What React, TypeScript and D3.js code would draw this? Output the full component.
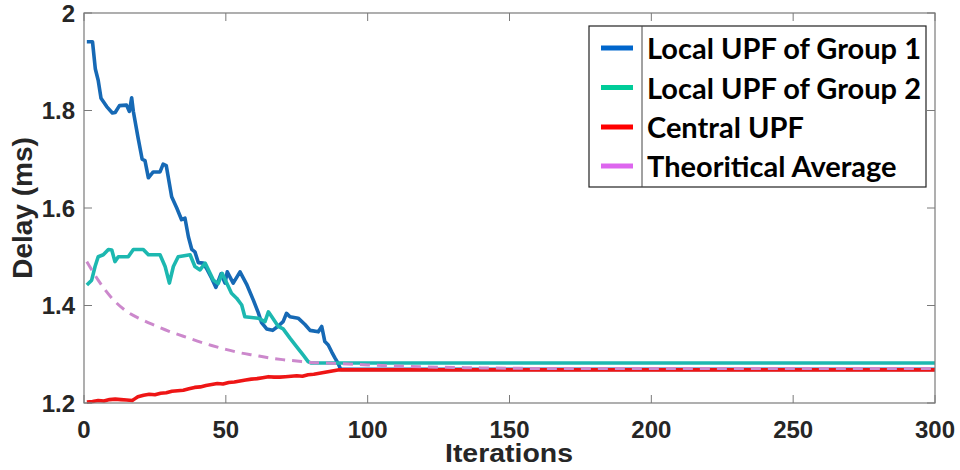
import React from "react";
import * as d3 from "d3";

const xTicks = [0, 50, 100, 150, 200, 250, 300];
const yTicks = [1.2, 1.4, 1.6, 1.8, 2];
const yTickLabels = ["1.2", "1.4", "1.6", "1.8", "2"];

const seriesNames = ["Local UPF of Group 1", "Local UPF of Group 2", "Central UPF", "Theoritical Average"];

const group1It = [1, 3, 4, 5, 6, 8, 10, 11, 12.5, 15, 16, 16.8, 17.4, 19, 20.5, 21.5, 22.7, 24.4, 26.8, 27.9, 29, 30.9, 32.7, 34.4, 35.6, 36.8, 38, 39.1, 40.3, 42, 43.2, 45, 46.5, 48.3, 49.7, 50.5, 52.6, 55, 57.3, 59.7, 61.4, 62.6, 64.4, 66.5, 68.5, 70.2, 71.4, 72.6, 75.5, 77.9, 79.7, 82.6, 83.8, 84.9, 86.1, 87.3, 88.5, 89.6, 90.5, 300];
const group1Val = [1.941, 1.941, 1.885, 1.862, 1.825, 1.808, 1.795, 1.796, 1.81, 1.811, 1.798, 1.826, 1.798, 1.746, 1.7, 1.697, 1.662, 1.674, 1.674, 1.69, 1.687, 1.623, 1.6, 1.576, 1.579, 1.541, 1.515, 1.51, 1.488, 1.487, 1.476, 1.456, 1.437, 1.465, 1.446, 1.469, 1.446, 1.469, 1.444, 1.411, 1.386, 1.365, 1.352, 1.349, 1.358, 1.367, 1.384, 1.377, 1.374, 1.361, 1.349, 1.346, 1.357, 1.326, 1.319, 1.305, 1.292, 1.281, 1.269, 1.269];

const group2It = [1, 2.7, 3.9, 5, 6.8, 8.6, 9.8, 10.9, 12.1, 15.6, 17.4, 20.9, 22.7, 26.8, 28.6, 30.1, 31.5, 33.2, 37.4, 39.1, 40.9, 42.7, 45.6, 47.3, 48.7, 50.3, 52, 53.8, 55.6, 56.7, 61.4, 63.8, 65, 66.2, 68.5, 70.2, 72.6, 75, 77.3, 79, 80, 300];
const group2Val = [1.442, 1.452, 1.48, 1.5, 1.504, 1.515, 1.514, 1.49, 1.5, 1.5, 1.515, 1.515, 1.504, 1.504, 1.48, 1.446, 1.48, 1.5, 1.504, 1.48, 1.473, 1.487, 1.452, 1.445, 1.466, 1.446, 1.425, 1.415, 1.401, 1.377, 1.374, 1.367, 1.387, 1.377, 1.357, 1.352, 1.333, 1.315, 1.298, 1.285, 1.282, 1.282];

const centralIt = [1, 3, 5, 7, 9, 11, 13, 15, 17, 18, 19, 21, 23, 25, 27, 29, 31, 33, 35, 37, 39, 41, 43, 45, 47, 49, 51, 53, 55, 57, 59, 61, 63, 65, 67, 69, 71, 73, 75, 77, 79, 81, 83, 85, 87, 89, 90, 300];
const centralVal = [1.202, 1.203, 1.205, 1.204, 1.207, 1.208, 1.207, 1.206, 1.205, 1.209, 1.213, 1.216, 1.218, 1.217, 1.22, 1.221, 1.224, 1.225, 1.226, 1.229, 1.232, 1.233, 1.236, 1.238, 1.24, 1.239, 1.242, 1.243, 1.245, 1.247, 1.249, 1.25, 1.252, 1.254, 1.253, 1.253, 1.254, 1.255, 1.256, 1.255, 1.258, 1.259, 1.261, 1.263, 1.265, 1.267, 1.268, 1.268];

const theoryIt = [1, 5, 10, 15, 20, 25, 30, 35, 40, 45, 50, 55, 60, 65, 70, 75, 80, 85, 90, 100, 110, 120, 130, 140, 160, 200, 300];
const theoryVal = [1.49, 1.452, 1.414, 1.388, 1.372, 1.359, 1.347, 1.337, 1.327, 1.318, 1.31, 1.303, 1.298, 1.293, 1.289, 1.286, 1.283, 1.282, 1.281, 1.278, 1.276, 1.274, 1.273, 1.272, 1.271, 1.271, 1.271];

const plotColors = ["#1669b5", "#1cb8b0", "#ee1515", "#cc88cc"];
const legendColors = ["#0066cc", "#00cc99", "#ff0000", "#dd66ee"];

const W = 960, H = 470;
const L = 84, R = 935, T = 13, B = 403;

export default function App() {
  const x = d3.scaleLinear().domain([0, 300]).range([L, R]);
  const y = d3.scaleLinear().domain([1.2, 2]).range([B, T]);
  const mk = (its: number[], vals: number[], curve: any = d3.curveLinear) =>
    d3.line<number>().x((_, i) => x(its[i])).y((v) => y(v)).curve(curve)(vals) || "";

  const series = [
    { d: mk(group1It, group1Val), w: 3.6, dash: undefined },
    { d: mk(group2It, group2Val), w: 3.6, dash: undefined },
    { d: mk(centralIt, centralVal), w: 3.6, dash: undefined },
    { d: mk(theoryIt, theoryVal, d3.curveMonotoneX), w: 3, dash: "10,7" },
  ];
  const axisColor = "#7a7a7a";
  const tickFont = "'Liberation Sans', Arial, sans-serif";
  const legX0 = 589, legX1 = 926, legY0 = 26, legY1 = 187;
  const rowY = [48, 87.5, 127, 166];

  return (
    <svg width={W} height={H} style={{ position: "absolute", left: 0, top: 0, background: "#fff" }}>
      <rect x={0} y={0} width={W} height={H} fill="#fff" />
      <g fill="none" strokeLinejoin="round" strokeLinecap="butt">
        {series.map((s, i) => (
          <path key={i} d={s.d} stroke={plotColors[i]} strokeWidth={s.w} strokeDasharray={s.dash} />
        ))}
      </g>
      <rect x={L} y={T} width={R - L} height={B - T} fill="none" stroke={axisColor} strokeWidth={1.2} />
      {xTicks.map((t) => (
        <g key={"x" + t}>
          <line x1={x(t)} x2={x(t)} y1={B} y2={B - 8} stroke={axisColor} />
          <line x1={x(t)} x2={x(t)} y1={T} y2={T + 8} stroke={axisColor} />
          <text x={x(t)} y={438} textAnchor="middle" fontFamily={tickFont} fontWeight="bold" fontSize={24} fill="#262626">{t}</text>
        </g>
      ))}
      {yTicks.map((t, i) => (
        <g key={"y" + t}>
          <line x1={L} x2={L + 8} y1={y(t)} y2={y(t)} stroke={axisColor} />
          <line x1={R} x2={R - 8} y1={y(t)} y2={y(t)} stroke={axisColor} />
          <text x={75} y={y(t) + 8.5} textAnchor="end" fontFamily={tickFont} fontWeight="bold" fontSize={24} fill="#262626">{yTickLabels[i]}</text>
        </g>
      ))}
      <text x={509} y={462} textAnchor="middle" fontFamily={tickFont} fontWeight="bold" fontSize={26} textLength={128} lengthAdjust="spacingAndGlyphs" fill="#262626">Iterations</text>
      <text transform={`translate(32,208) rotate(-90)`} textAnchor="middle" fontFamily={tickFont} fontWeight="bold" fontSize={28} fill="#262626">Delay (ms)</text>
      <rect x={legX0} y={legY0} width={legX1 - legX0} height={legY1 - legY0} fill="#fff" stroke="#222" strokeWidth={1.2} />
      <line x1={642} x2={642} y1={legY0} y2={legY1} stroke="#444" strokeWidth={1} />
      {seriesNames.map((n, i) => (
        <g key={n}>
          <line x1={601} x2={633} y1={rowY[i]} y2={rowY[i]} stroke={legendColors[i]} strokeWidth={5} />
          <text x={647} y={rowY[i] + 11} fontFamily="Lato, 'Open Sans', sans-serif" fontWeight="bold" fontSize={29} fill="#000">{n}</text>
        </g>
      ))}
    </svg>
  );
}
